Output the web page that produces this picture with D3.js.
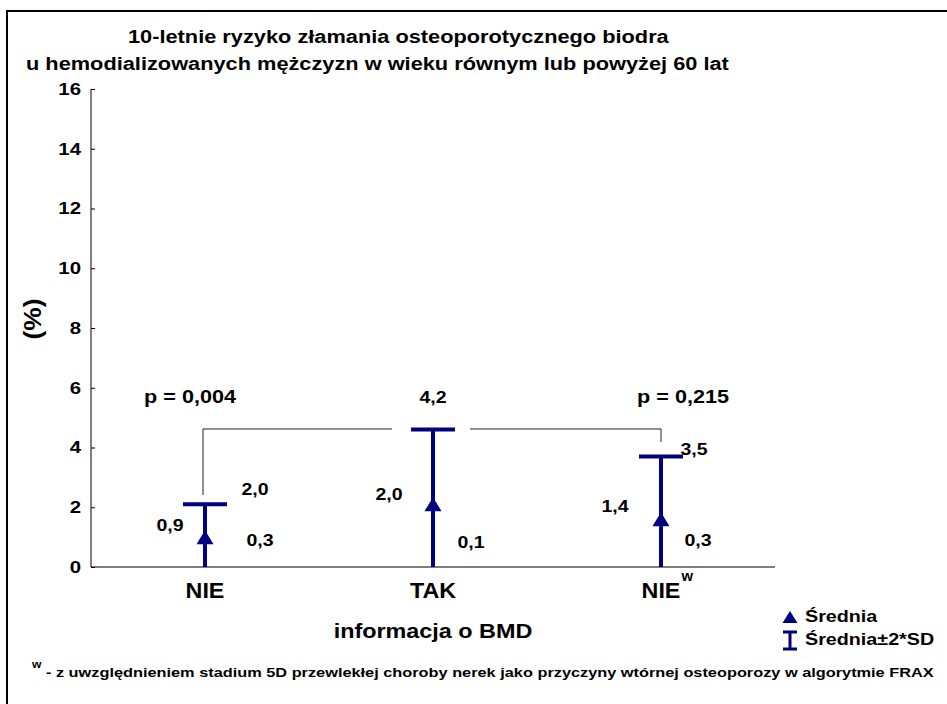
<!DOCTYPE html>
<html>
<head>
<meta charset="utf-8">
<script src="https://cdn.jsdelivr.net/npm/d3@7"></script>
<style>
  body { margin: 0; background: #fff; }
  svg text { font-family: "Liberation Sans", Arial, sans-serif; font-weight: bold; fill: #000; }
</style>
</head>
<body>
<div id="chart"></div>
<script>
// categories and values
const categories = ["NIE", "TAK", "NIE_w"];
const categoryLabels = ["NIE", "TAK", "NIE"];
const categorySup = ["", "", "w"];
const means = [1.0, 2.1, 1.6];
const upper = [2.1, 4.6, 3.7];
const lower = [-0.1, -0.4, -0.5];
const meanLabels = ["0,9", "2,0", "1,4"];
const upperLabels = ["2,0", "4,2", "3,5"];
const lowerLabels = ["0,3", "0,1", "0,3"];
const yTicks = [0, 2, 4, 6, 8, 10, 12, 14, 16];
const pValues = ["p = 0,004", "p = 0,215"];

const width = 947, height = 704;
const margin = { top: 89, right: 172, bottom: 137, left: 91 };
const navy = "#000080";

const svg = d3.select("#chart").append("svg")
  .attr("width", width)
  .attr("height", height);

// the original text is a bit wider than Arial, so stretch it horizontally
function label(parent, x, y, str, size, anchor, sx) {
  return parent.append("text")
    .attr("transform", `translate(${x},${y}) scale(${sx},1)`)
    .attr("text-anchor", anchor || "start")
    .attr("font-size", size)
    .text(str);
}

// outer frame (only top and left edges visible)
svg.append("path")
  .attr("d", `M7,${height} L7,11 L${width},11`)
  .attr("fill", "none")
  .attr("stroke", "#000")
  .attr("stroke-width", 2);

const x = d3.scaleBand()
  .domain(categories)
  .range([margin.left, width - margin.right]);

const y = d3.scaleLinear()
  .domain([0, 16])
  .range([height - margin.bottom, margin.top])
  .clamp(true);

const cx = i => x(categories[i]) + x.bandwidth() / 2;

// title
label(svg, 128, 43, "10-letnie ryzyko złamania osteoporotycznego biodra", 18, "start", 1.21);
label(svg, 26, 70, "u hemodializowanych mężczyzn w wieku równym lub powyżej 60 lat", 18, "start", 1.21);

// y axis
const yAxis = svg.append("g")
  .attr("transform", `translate(${margin.left},0)`)
  .call(d3.axisLeft(y).tickValues(yTicks).tickSize(-4));
yAxis.select(".domain").attr("stroke", "#000").attr("d", `M0,${y(16)}V${y(0)}`);
yAxis.selectAll(".tick line").attr("stroke", "#000");
yAxis.selectAll(".tick text")
  .attr("x", 0)
  .attr("transform", "translate(-10,0) scale(1.2,1)")
  .attr("font-size", 17)
  .attr("font-family", "Liberation Sans, Arial, sans-serif")
  .attr("font-weight", "bold");

// x axis (line only)
svg.append("line")
  .attr("x1", margin.left).attr("x2", width - margin.right)
  .attr("y1", y(0)).attr("y2", y(0))
  .attr("stroke", "#000").attr("stroke-width", 1.2);

// y axis title
svg.append("text")
  .attr("transform", `translate(41,${(y(0) + y(16)) / 2 - 9}) rotate(-90) scale(1.1,1)`)
  .attr("text-anchor", "middle")
  .attr("font-size", 24)
  .text("(%)");

// category labels
categories.forEach((c, i) => {
  const t = label(svg, cx(i), y(0) + 31, categoryLabels[i], 22, "middle", 1.06);
  if (categorySup[i]) {
    const w = t.node().getComputedTextLength() * 1.06;
    label(svg, cx(i) + w / 2 + 1, y(0) + 14, categorySup[i], 14, "start", 1.06);
  }
});

label(svg, 433, 638, "informacja o BMD", 19.5, "middle", 1.2);

// significance brackets
const bracketLevel = 4.62;
svg.append("path")
  .attr("d", `M${cx(0) - 2},${y(2.41)} V${y(bracketLevel)} H${cx(1) - 41}`)
  .attr("fill", "none").attr("stroke", "#222").attr("stroke-width", 1);
svg.append("path")
  .attr("d", `M${cx(1) + 37},${y(bracketLevel)} H${cx(2)} V${y(4.18)}`)
  .attr("fill", "none").attr("stroke", "#222").attr("stroke-width", 1);

label(svg, cx(0) - 15, y(bracketLevel) - 26, pValues[0], 18, "middle", 1.2);
label(svg, cx(2) + 22, y(bracketLevel) - 26, pValues[1], 18, "middle", 1.2);

// error bars
const capHalf = 22;
const g = svg.append("g");
categories.forEach((c, i) => {
  const px = cx(i);
  g.append("line")
    .attr("x1", px).attr("x2", px)
    .attr("y1", y(lower[i])).attr("y2", y(upper[i]))
    .attr("stroke", navy).attr("stroke-width", 4);
  g.append("line")
    .attr("x1", px - capHalf).attr("x2", px + capHalf)
    .attr("y1", y(upper[i])).attr("y2", y(upper[i]))
    .attr("stroke", navy).attr("stroke-width", 4);
  const my = y(means[i]);
  g.append("path")
    .attr("d", `M${px},${my - 7} L${px + 8.5},${my + 7} L${px - 8.5},${my + 7} Z`)
    .attr("fill", navy);
});

// value labels, offsets in px from the bar centre
const upperPos = [[50, -9], [0, -27], [33, -1]];
const meanPos = [[-35, -6], [-44, -4], [-46, -7]];
const lowerPos = [[55, -21], [38, -19], [37, -21]];
categories.forEach((c, i) => {
  const px = cx(i);
  label(svg, px + upperPos[i][0], y(upper[i]) + upperPos[i][1], upperLabels[i], 17, "middle", 1.15);
  label(svg, px + meanPos[i][0], y(means[i]) + meanPos[i][1], meanLabels[i], 17, "middle", 1.15);
  label(svg, px + lowerPos[i][0], y(0) + lowerPos[i][1], lowerLabels[i], 17, "middle", 1.15);
});

// legend
const lg = svg.append("g").attr("transform", "translate(790,0)");
lg.append("path")
  .attr("d", "M0,611 L7.5,623 L-7.5,623 Z")
  .attr("fill", navy);
lg.append("path")
  .attr("d", "M-7,632 H7 M0,632 V649 M-7,649 H7")
  .attr("stroke", navy).attr("stroke-width", 3).attr("fill", "none");
label(lg, 15, 622, "Średnia", 17, "start", 1.16);
label(lg, 15, 645, "Średnia±2*SD", 17, "start", 1.16);

// footnote
const fn = label(svg, 32, 677, "", 13.5, "start", 1.21);
fn.append("tspan").attr("font-size", 10).attr("dy", -9).text("w");
fn.append("tspan").attr("dy", 9).text(" - z uwzględnieniem stadium 5D przewlekłej choroby nerek jako przyczyny wtórnej osteoporozy w algorytmie FRAX");
</script>
</body>
</html>
